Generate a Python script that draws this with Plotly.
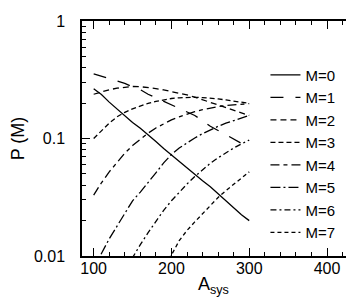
import plotly.graph_objects as go

A = [100, 110, 120, 130, 140, 150, 160, 170, 180, 190, 200,
     210, 220, 230, 240, 250, 260, 270, 280, 290, 300]

p_m0 = [0.265, 0.237, 0.204, 0.178, 0.155, 0.137, 0.122, 0.108, 0.0944, 0.0822, 0.0723,
        0.0638, 0.0562, 0.0495, 0.0437, 0.0389, 0.0339, 0.0295, 0.0257, 0.0224, 0.020]
p_m1 = [0.355, 0.340, 0.325, 0.312, 0.295, 0.275, 0.260, 0.238, 0.222, 0.210, 0.195,
        0.182, 0.168, 0.157, 0.142, 0.127, 0.117, 0.108, 0.099, 0.091, 0.083]
p_m2 = [0.238, 0.250, 0.260, 0.268, 0.274, 0.277, 0.276, 0.272, 0.266, 0.259, 0.252,
        0.244, 0.235, 0.225, 0.214, 0.203, 0.193, 0.183, 0.174, 0.165, 0.157]
p_m3 = [0.100, 0.117, 0.135, 0.153, 0.167, 0.179, 0.190, 0.199, 0.207, 0.214, 0.219,
        0.222, 0.224, 0.224, 0.223, 0.221, 0.217, 0.213, 0.208, 0.203, 0.199]
p_m4 = [0.033, 0.042, 0.052, 0.063, 0.075, 0.087, 0.099, 0.111, 0.123, 0.134, 0.144,
        0.153, 0.162, 0.169, 0.176, 0.182, 0.187, 0.191, 0.194, 0.196, 0.198]
p_m5 = [0.0075, 0.0105, 0.0140, 0.0180, 0.0235, 0.0295, 0.0350, 0.0420, 0.0510, 0.0620, 0.0730,
        0.0830, 0.0920, 0.1010, 0.1100, 0.1190, 0.1270, 0.1350, 0.1420, 0.1500, 0.1570]
A_m6 = [140, 150, 160, 170, 180, 190, 200, 210, 220, 230, 240, 250, 260, 270, 280, 290, 300]
p_m6 = [0.0075, 0.0098, 0.0125, 0.0158, 0.0197, 0.0245, 0.0295, 0.0350, 0.0410, 0.0475, 0.0545,
        0.0615, 0.0685, 0.0760, 0.0830, 0.0900, 0.0970]
A_m7 = [190, 200, 210, 220, 230, 240, 250, 260, 270, 280, 290, 300]
p_m7 = [0.0085, 0.0102, 0.0135, 0.0165, 0.0195, 0.0230, 0.0270, 0.0315, 0.0360, 0.0405, 0.0455, 0.0520]

series = [
    ("M=0", A, p_m0, "solid"),
    ("M=1", A, p_m1, "13px,12px"),
    ("M=2", A, p_m2, "6px,4px"),
    ("M=3", A, p_m3, "5px,3px"),
    ("M=4", A, p_m4, "9px,4px,4px,4px"),
    ("M=5", A, p_m5, "10px,3px,2px,3px"),
    ("M=6", A_m6, p_m6, "6px,3px,2px,3px"),
    ("M=7", A_m7, p_m7, "4px,3px"),
]

x_major = [100, 200, 300, 400]
x_labels = ["100", "200", "300", "400"]
x_minor = [v for v in range(100, 440, 20) if v % 100 != 0]
y_major = [0.01, 0.1, 1]
y_labels = ["0.01", "0.1", "1"]
y_minor = [m * 10.0 ** e for e in (-2, -1) for m in range(2, 10)]

fig = go.Figure()
for name, xs, ys, dash in series:
    fig.add_trace(go.Scatter(x=xs, y=ys, mode="lines", name=name,
                             line=dict(color="black", width=1.3, dash=dash)))

font = "Liberation Sans, Arial, sans-serif"
fig.update_layout(
    width=354, height=297,
    margin=dict(l=68, r=5, t=12, b=49),
    paper_bgcolor="white", plot_bgcolor="white",
    font=dict(family=font, size=16, color="black"),
    showlegend=True,
    legend=dict(x=0.672, y=0.84, xanchor="left", yanchor="top",
                bgcolor="rgba(0,0,0,0)", borderwidth=0,
                font=dict(size=15), tracegroupgap=0),
    xaxis=dict(range=[85, 436], showgrid=False, zeroline=False,
               showline=True, linecolor="black", linewidth=1.5, mirror="allticks",
               ticks="inside", ticklen=8, tickwidth=1.2, tickcolor="black",
               tickmode="array", tickvals=x_major, ticktext=x_labels,
               ticklabelstandoff=-3,
               minor=dict(ticks="inside", ticklen=4, tickwidth=1.2, tickcolor="black",
                          tickvals=x_minor, showgrid=False)),
    yaxis=dict(type="log", range=[-2, 0], showgrid=False, zeroline=False,
               showline=True, linecolor="black", linewidth=1.5, mirror="allticks",
               ticks="inside", ticklen=8, tickwidth=1.2, tickcolor="black",
               tickmode="array", tickvals=y_major, ticktext=y_labels,
               ticklabelstandoff=12,
               minor=dict(ticks="inside", ticklen=4, tickwidth=1.2, tickcolor="black",
                          tickvals=y_minor, showgrid=False),
               title=dict(text="P (M)", font=dict(size=18), standoff=8)),
    annotations=[dict(text="A<sub>sys</sub>", xref="paper", yref="paper",
                      x=0.48, y=-0.127, xanchor="center", yanchor="middle",
                      showarrow=False, font=dict(size=18))],
)

fig.write_html("out.html")
